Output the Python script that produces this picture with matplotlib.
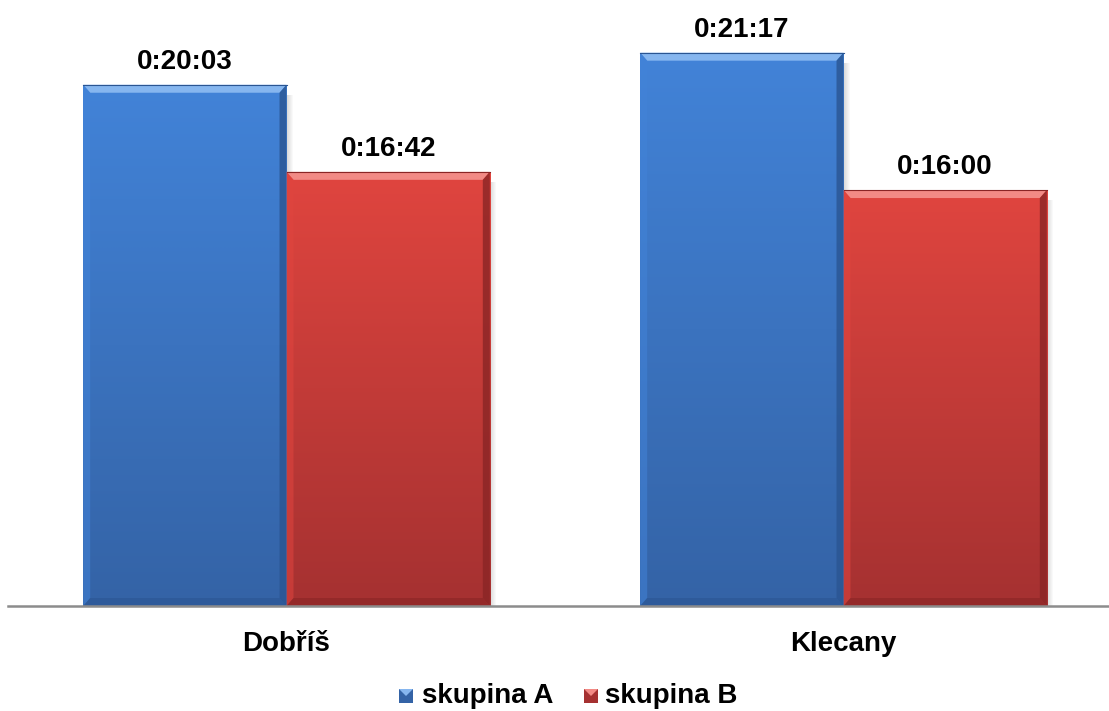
import matplotlib
matplotlib.use("Agg")
import matplotlib.pyplot as plt
import numpy as np
from matplotlib.patches import Polygon, Rectangle
from matplotlib.colors import to_rgb

plt.rcParams['font.family'] = ['Liberation Sans', 'DejaVu Sans']

# Average times per location, in seconds
categories = ["Dobříš", "Klecany"]
series_names = ["skupina A", "skupina B"]
group_a = [20 * 60 + 3, 21 * 60 + 17]   # 0:20:03, 0:21:17
group_b = [16 * 60 + 42, 16 * 60 + 0]   # 0:16:42, 0:16:00
series_values = [group_a, group_b]

# (top colour, bottom colour, highlight, shade)
palettes = [
    ("#4283d8", "#3463a6", "#86b6ef", "#2a5592"),
    ("#e0453f", "#a53131", "#f28a85", "#8a2525"),
]

W, H, DPI = 1109, 711, 100
fig = plt.figure(figsize=(W / DPI, H / DPI), dpi=DPI)
fig.patch.set_facecolor("white")

px_per_unit = 557.0
px_per_sec = 0.4333
base_px = 606
left_px = 8
ax = fig.add_axes([left_px / W, (H - base_px) / H, 1 - left_px / W, base_px / H])
x0 = -0.5
x1 = x0 + (W - left_px) / px_per_unit
ax.set_xlim(x0, x1)
ax.set_ylim(0, base_px / px_per_sec)
ax.axis("off")

bar_w = 0.365
bev_x = 7 / px_per_unit
bev_y = 8 / px_per_sec
x = np.arange(len(categories))
FS = 20


def fmt(sec):
    return f"{sec // 3600}:{(sec % 3600) // 60:02d}:{sec % 60:02d}"


def gradient(top, bottom, n=256):
    t = np.linspace(0, 1, n)[:, None]
    a = np.array(to_rgb(top))
    b = np.array(to_rgb(bottom))
    return (a * (1 - t) + b * t)[:, None, :].repeat(2, axis=1)


for si, vals in enumerate(series_values):
    top_c, bot_c, hi_c, sh_c = palettes[si]
    offs = (si - 0.5) * bar_w
    bars = ax.bar(x + offs, vals, width=bar_w, color="none", edgecolor="none", zorder=2)
    for rect, v in zip(bars, vals):
        bx, bw, bh = rect.get_x(), rect.get_width(), rect.get_height()
        # soft shadow on the right
        for k in range(6):
            ax.add_patch(Rectangle((bx + bw, 0), (k + 1) * 1.0 / px_per_unit,
                                   bh - 10 / px_per_sec, color="black",
                                   alpha=0.025, lw=0, zorder=1))
        im = ax.imshow(gradient(top_c, bot_c), extent=(bx, bx + bw, 0, bh),
                       aspect="auto", zorder=2, interpolation="bilinear")
        im.set_clip_path(rect)
        # bevel faces
        top_face = Polygon([(bx, bh), (bx + bw, bh), (bx + bw - bev_x, bh - bev_y),
                            (bx + bev_x, bh - bev_y)], closed=True,
                           color=hi_c, lw=0, zorder=3)
        left_face = Polygon([(bx, bh), (bx + bev_x, bh - bev_y), (bx + bev_x, bev_y),
                             (bx, 0)], closed=True, color=top_c, alpha=0.55, lw=0, zorder=3)
        right_face = Polygon([(bx + bw, bh), (bx + bw, 0), (bx + bw - bev_x, bev_y),
                              (bx + bw - bev_x, bh - bev_y)], closed=True,
                             color=sh_c, alpha=0.8, lw=0, zorder=3)
        bot_face = Polygon([(bx, 0), (bx + bw, 0), (bx + bw - bev_x, bev_y),
                            (bx + bev_x, bev_y)], closed=True, color=sh_c,
                           alpha=0.6, lw=0, zorder=3)
        for p in (top_face, left_face, right_face, bot_face):
            ax.add_patch(p)
        ax.plot([bx, bx + bw], [bh, bh], color=sh_c, lw=0.8, zorder=4)
        ax.text(bx + bw / 2, bh + 16 / px_per_sec, fmt(v), ha="center", va="baseline",
                fontsize=FS, fontweight="bold", color="black", zorder=5)

# baseline
ax.plot([x0, x1], [0, 0], color="#8c8c8c", lw=1.8, zorder=6, clip_on=False)

# category labels
for xi, name in zip(x, categories):
    ax.text(xi, -38 / px_per_sec, name, ha="center", va="center",
            fontsize=FS, fontweight="bold")

# legend
legend_pos = [(399, 422), (584, 605)]
for (sx, tx), name, pal in zip(legend_pos, series_names, palettes):
    top_c, bot_c, hi_c, sh_c = pal
    sq = 14
    sy = H - 703
    fig.patches.append(Rectangle((sx / W, sy / H), sq / W, sq / H,
                                 transform=fig.transFigure, color=bot_c, lw=0))
    fig.patches.append(Polygon([(sx / W, (sy + sq) / H), ((sx + sq) / W, (sy + sq) / H),
                                ((sx + sq / 2) / W, (sy + sq / 2) / H)],
                               transform=fig.transFigure, color=hi_c, lw=0))
    fig.text(tx / W, (H - 696) / H, name, ha="left", va="center",
             fontsize=FS, fontweight="bold")

fig.savefig("out.png", dpi=DPI)
